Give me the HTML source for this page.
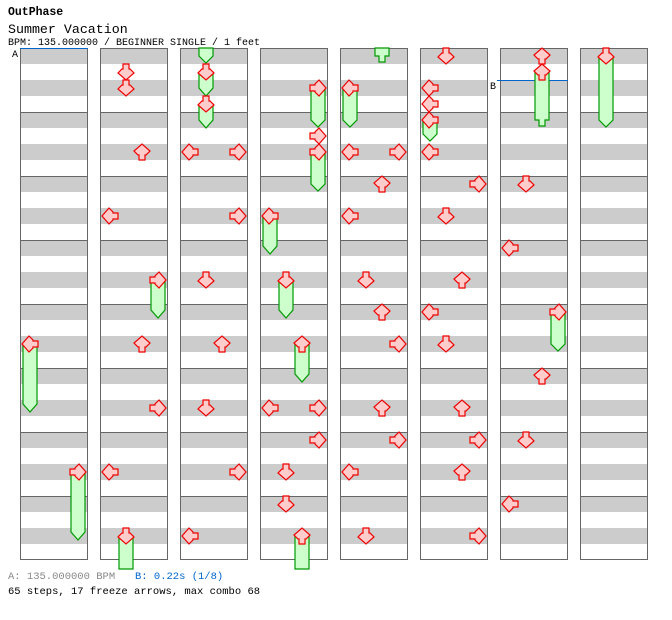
<!DOCTYPE html>
<html><head><meta charset="utf-8"><style>
body{margin:0;background:#fff;}
svg{display:block;}
text{font-family:"Liberation Mono",monospace;}
</style></head><body>
<svg width="672" height="620" viewBox="0 0 672 620" xmlns="http://www.w3.org/2000/svg">
<defs>
<pattern id="bg" x="0" y="48" width="68" height="64" patternUnits="userSpaceOnUse">
<rect width="68" height="64" fill="#fff"/>
<rect y="0" width="68" height="16" fill="#ccc"/>
<rect y="32" width="68" height="16" fill="#ccc"/>
<line x1="0" y1="0.5" x2="68" y2="0.5" stroke="#666" stroke-width="1"/>
</pattern>
<path id="ad" d="M-3,-8 H3 V-3 H4 L8,1 L0,8 L-8,1 L-4,-3 H-3 Z" fill="#fcc" stroke="#e00" stroke-width="1.2"/>
<use id="aL" href="#ad" transform="rotate(90)"/>
<use id="aU" href="#ad" transform="rotate(180)"/>
<use id="aR" href="#ad" transform="rotate(-90)"/>
</defs>
<text x="8" y="15" font-size="11.5" font-weight="bold">OutPhase</text>
<text x="8" y="33" font-size="13.3">Summer Vacation</text>
<text x="8" y="45" font-size="10">BPM: 135.000000 / BEGINNER SINGLE / 1 feet</text>

<g stroke="#666" stroke-width="1">
<rect x="20.5" y="48.5" width="67" height="511" fill="url(#bg)"/>
<rect x="100.5" y="48.5" width="67" height="511" fill="url(#bg)"/>
<rect x="180.5" y="48.5" width="67" height="511" fill="url(#bg)"/>
<rect x="260.5" y="48.5" width="67" height="511" fill="url(#bg)"/>
<rect x="340.5" y="48.5" width="67" height="511" fill="url(#bg)"/>
<rect x="420.5" y="48.5" width="67" height="511" fill="url(#bg)"/>
<rect x="500.5" y="48.5" width="67" height="511" fill="url(#bg)"/>
<rect x="580.5" y="48.5" width="67" height="511" fill="url(#bg)"/>
</g>
<line x1="20" y1="48.5" x2="88" y2="48.5" stroke="#06c"/>
<line x1="497" y1="80.5" x2="568" y2="80.5" stroke="#06c"/>
<text x="12" y="57" font-size="10">A</text>
<text x="490" y="89" font-size="10">B</text>

<g fill="#cfc" stroke="#090" stroke-width="1.2">
<path d="M23,344 V404 L30,412 L37,404 V344 Z"/>
<path d="M71,472 V532 L78,540 L85,532 V472 Z"/>
<path d="M151,280 V310 L158,318 L165,310 V280 Z"/>
<path d="M119,536 V569 H133 V536 Z"/>
<path d="M199,48 V56 L206,63 L213,56 V48 Z"/>
<path d="M199,72 V88 L206,96 L213,88 V72 Z"/>
<path d="M199,104 V120 L206,128 L213,120 V104 Z"/>
<path d="M311,88 V120 L318,127 L325,120 V88 Z"/>
<path d="M311,152 V184 L318,191 L325,184 V152 Z"/>
<path d="M263,216 V246 L270,254 L277,246 V216 Z"/>
<path d="M279,280 V310 L286,318 L293,310 V280 Z"/>
<path d="M295,344 V374 L302,382 L309,374 V344 Z"/>
<path d="M295,536 V569 H309 V536 Z"/>
<path d="M375,48 V56 H379 V62 H385 V56 H389 V48 Z"/>
<path d="M343,88 V120 L350,127 L357,120 V88 Z"/>
<path d="M423,120 V134 L430,141 L437,134 V120 Z"/>
<path d="M535,72 V120 H539 V126 H545 V120 H549 V72 Z"/>
<path d="M599,56 V120 L606,127 L613,120 V56 Z"/>
<path d="M551,312 V344 L558,351 L565,344 V312 Z"/>
</g>

<g>
<use href="#aL" x="30" y="344"/>
<use href="#aR" x="78" y="472"/>

<use href="#ad" x="126" y="72"/>
<use href="#ad" x="126" y="88"/>
<use href="#aU" x="142" y="152"/>
<use href="#aL" x="110" y="216"/>
<use href="#aR" x="158" y="280"/>
<use href="#aU" x="142" y="344"/>
<use href="#aR" x="158" y="408"/>
<use href="#aL" x="110" y="472"/>
<use href="#ad" x="126" y="536"/>

<use href="#ad" x="206" y="72"/>
<use href="#ad" x="206" y="104"/>
<use href="#aL" x="190" y="152"/>
<use href="#aR" x="238" y="152"/>
<use href="#aR" x="238" y="216"/>
<use href="#ad" x="206" y="280"/>
<use href="#aU" x="222" y="344"/>
<use href="#ad" x="206" y="408"/>
<use href="#aR" x="238" y="472"/>
<use href="#aL" x="190" y="536"/>

<use href="#aR" x="318" y="88"/>
<use href="#aR" x="318" y="136"/>
<use href="#aR" x="318" y="152"/>
<use href="#aL" x="270" y="216"/>
<use href="#ad" x="286" y="280"/>
<use href="#aU" x="302" y="344"/>
<use href="#aL" x="270" y="408"/>
<use href="#aR" x="318" y="408"/>
<use href="#aR" x="318" y="440"/>
<use href="#ad" x="286" y="472"/>
<use href="#ad" x="286" y="504"/>
<use href="#aU" x="302" y="536"/>

<use href="#aL" x="350" y="88"/>
<use href="#aL" x="350" y="152"/>
<use href="#aR" x="398" y="152"/>
<use href="#aU" x="382" y="184"/>
<use href="#aL" x="350" y="216"/>
<use href="#ad" x="366" y="280"/>
<use href="#aU" x="382" y="312"/>
<use href="#aR" x="398" y="344"/>
<use href="#aU" x="382" y="408"/>
<use href="#aR" x="398" y="440"/>
<use href="#aL" x="350" y="472"/>
<use href="#ad" x="366" y="536"/>

<use href="#ad" x="446" y="56"/>
<use href="#aL" x="430" y="88"/>
<use href="#aL" x="430" y="104"/>
<use href="#aL" x="430" y="120"/>
<use href="#aL" x="430" y="152"/>
<use href="#aR" x="478" y="184"/>
<use href="#ad" x="446" y="216"/>
<use href="#aU" x="462" y="280"/>
<use href="#aL" x="430" y="312"/>
<use href="#ad" x="446" y="344"/>
<use href="#aU" x="462" y="408"/>
<use href="#aR" x="478" y="440"/>
<use href="#aU" x="462" y="472"/>
<use href="#aR" x="478" y="536"/>

<use href="#aU" x="542" y="56"/>
<use href="#aU" x="542" y="72"/>
<use href="#ad" x="526" y="184"/>
<use href="#aL" x="510" y="248"/>
<use href="#aR" x="558" y="312"/>
<use href="#aU" x="542" y="376"/>
<use href="#ad" x="526" y="440"/>
<use href="#aL" x="510" y="504"/>

<use href="#ad" x="606" y="56"/>
</g>

<text x="8" y="579" font-size="10.5" fill="#888">A: 135.000000 BPM</text>
<text x="135" y="579" font-size="10.5" fill="#06c">B: 0.22s (1/8)</text>
<text x="8" y="594" font-size="10.5">65 steps, 17 freeze arrows, max combo 68</text>
</svg>
</body></html>
